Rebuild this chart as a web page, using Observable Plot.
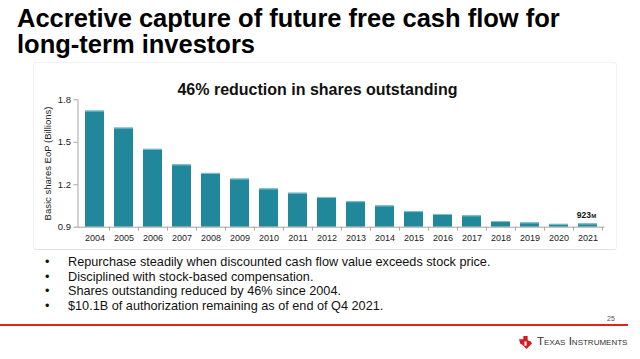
<!DOCTYPE html>
<html><head><meta charset="utf-8">
<script src="https://cdn.jsdelivr.net/npm/d3@7"></script>
<script src="https://cdn.jsdelivr.net/npm/@observablehq/plot@0.6"></script>
<style>
body{margin:0;background:#fff;font-family:"Liberation Sans",Arial,sans-serif;}
#page{position:relative;width:640px;height:359px;overflow:hidden;background:#fff;}
.tl{position:absolute;left:17px;font-weight:bold;font-size:25.5px;line-height:23px;height:23px;color:#000;white-space:nowrap;}
#panel{position:absolute;left:33px;top:62px;width:582px;height:186px;border:1px solid #f1f1f1;border-bottom:1px solid #e4e4e4;border-radius:3px;}
#chart{position:absolute;left:33px;top:62px;}
#ctitle{position:absolute;left:0;width:635px;top:81px;text-align:center;font-weight:bold;font-size:16px;line-height:18px;color:#111;}
#bullets{position:absolute;left:0;top:255px;font-size:12.7px;line-height:14.7px;color:#111;}
.b{position:relative;height:14.7px;white-space:nowrap;}
.b .dot{position:absolute;left:45px;}
.b .txt{position:absolute;left:68px;}
#red{position:absolute;left:0;top:324px;width:628px;height:2px;background:#e2231a;}
#pg{position:absolute;left:607px;top:315px;font-size:7px;color:#555;}
#logo{position:absolute;left:518px;top:335px;}
#ti{position:absolute;left:537px;top:334px;font-size:11.6px;font-variant:small-caps;color:#333;}
</style></head><body>
<div id="page">
  <div id="title"></div>
  <div id="panel"></div>
  <div id="chart"></div>
  <div id="ctitle"></div>
  <div id="bullets"></div>
  <div id="red"></div>
  <div id="pg"></div>
  <svg id="logo" width="15" height="15" viewBox="0 0 14 14"><path d="M1 4 L5 4 L5 1 L9 1 L9 5 L12 6 L13 8 L10 11 L8 13 L6 11 L4 9 L2 8 Z" fill="#d71920"/><path d="M6 6 L8 6 L8 10 L6 10 Z" fill="#fff"/></svg>
  <div id="ti"></div>
</div>
<script>
const slideTitle = ["Accretive capture of future free cash flow for", "long-term investors"];
const chartTitle = "46% reduction in shares outstanding";
const yLabel = "Basic shares EoP (Billions)";
const years = ["2004","2005","2006","2007","2008","2009","2010","2011","2012","2013","2014","2015","2016","2017","2018","2019","2020","2021"];
const shares = [1.72,1.60,1.45,1.34,1.28,1.24,1.17,1.14,1.11,1.08,1.05,1.01,0.99,0.98,0.94,0.93,0.92,0.923];
const yTicks = [0.9,1.2,1.5,1.8];
const endLabelYear = "2021";
const endLabelValue = 0.923;
const endLabelNumber = "923";
const endLabelUnit = "M";
const bullets = [
  "Repurchase steadily when discounted cash flow value exceeds stock price.",
  "Disciplined with stock-based compensation.",
  "Shares outstanding reduced by 46% since 2004.",
  "$10.1B of authorization remaining as of end of Q4 2021."
];
const pageNumber = "25";
const company = "Texas Instruments";

const tdiv = document.getElementById("title");
slideTitle.forEach((t, i) => {
  const d = document.createElement("div"); d.className = "tl";
  d.style.top = (7 + i * 25.5) + "px";
  d.textContent = t;
  tdiv.appendChild(d);
});
document.getElementById("ctitle").textContent = chartTitle;
document.getElementById("pg").textContent = pageNumber;
document.getElementById("ti").textContent = company;
const bdiv = document.getElementById("bullets");
bullets.forEach(t => {
  const d = document.createElement("div"); d.className = "b";
  d.innerHTML = `<span class="dot">•</span><span class="txt"></span>`;
  d.querySelector(".txt").textContent = t;
  bdiv.appendChild(d);
});

const data = years.map((y, i) => ({year: y, value: shares[i]}));
const padInner = 0.33;
const base = yTicks[0];

function boundaryTicks() {
  return (index, scales, values, dims) => {
    const g = d3.create("svg:g");
    const step = (dims.width - dims.marginLeft - dims.marginRight) / years.length;
    const y0 = scales.y(base);
    years.forEach(d => {
      const xr = scales.x(d) - step * padInner / 2 + step;
      g.append("line").attr("x1", xr).attr("x2", xr).attr("y1", y0).attr("y2", y0 + 4)
        .attr("stroke", "#a6a6a6").attr("stroke-width", 1);
    });
    return g.node();
  };
}

const chart = Plot.plot({
  width: 583,
  height: 187,
  marginTop: 37.3,
  marginBottom: 22.3,
  marginLeft: 44.5,
  marginRight: 11.4,
  style: {fontFamily: '"Liberation Sans", Arial, sans-serif', background: "transparent", overflow: "visible"},
  x: {domain: years, paddingInner: padInner, paddingOuter: padInner / 2},
  y: {domain: [yTicks[0], yTicks[yTicks.length - 1]]},
  marks: [
    Plot.barY(data, {x: "year", y1: base, y2: "value", fill: "#21889b"}),
    Plot.tickY(data, {x: "year", y: "value", stroke: "#7fc3cf", strokeWidth: 1}),
    Plot.ruleY([base], {stroke: "#a6a6a6", strokeWidth: 1}),
    Plot.frame({anchor: "left", stroke: "#a6a6a6", strokeWidth: 1}),
    boundaryTicks(),
    Plot.axisY({ticks: yTicks, tickSize: 4, tickPadding: 3, tickFormat: d3.format(".1f"), fontSize: 9.5, color: "#222", stroke: "#a6a6a6",
      label: yLabel, labelAnchor: "center", labelArrow: "none", labelOffset: 34}),
    Plot.axisX({tickSize: 0, tickPadding: 7, fontSize: 9, color: "#222", label: null}),
    Plot.text([endLabelValue], {x: () => endLabelYear, y: d => d, text: () => endLabelNumber, dy: -6, dx: 3, textAnchor: "end", lineAnchor: "bottom", fontSize: 8.5, fontWeight: "bold", fill: "#111"}),
    Plot.text([endLabelValue], {x: () => endLabelYear, y: d => d, text: () => endLabelUnit, dy: -6, dx: 3.3, textAnchor: "start", lineAnchor: "bottom", fontSize: 6, fontWeight: "bold", fill: "#111"})
  ]
});
document.getElementById("chart").appendChild(chart);
</script>
</body></html>
